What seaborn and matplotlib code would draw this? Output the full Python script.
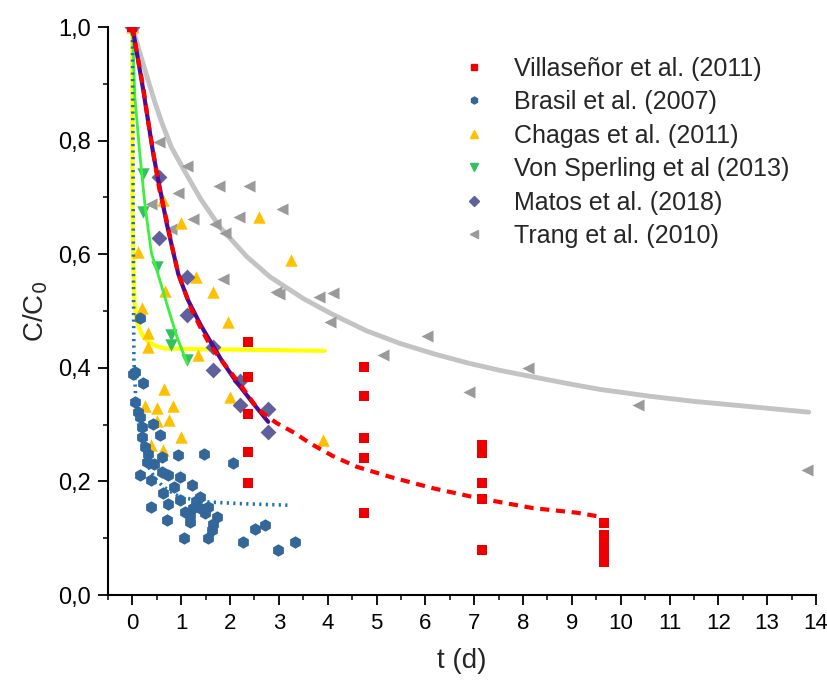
import matplotlib
matplotlib.use('Agg')
import matplotlib.pyplot as plt
from matplotlib.lines import Line2D
from matplotlib.ticker import MultipleLocator, FuncFormatter
import pandas as pd
import seaborn as sns

# Villaseñor et al. (2011) - measured points and fit
vil_t = [0, 2.37, 2.37, 2.37, 2.37, 2.37, 4.75, 4.75, 4.75, 4.75, 4.75,
         7.15, 7.15, 7.15, 7.15, 7.15, 9.65, 9.65, 9.65, 9.65, 9.65]
vil_c = [1.0, 0.445, 0.384, 0.319, 0.252, 0.197, 0.402, 0.350, 0.276, 0.241, 0.145,
         0.265, 0.250, 0.197, 0.170, 0.079, 0.127, 0.105, 0.090, 0.075, 0.058]
vil_fit_t = [0, 0.1, 0.22, 0.32, 0.43, 0.55, 0.7, 0.82, 0.94, 1.07, 1.2, 1.4, 1.59, 1.9, 2.24,
             2.58, 2.95, 3.33, 3.64, 4.1, 4.59, 5.28, 6.16, 7.12, 8.21, 9.1, 9.51, 9.6, 9.65]
vil_fit_c = [1.0, 0.95, 0.895, 0.835, 0.778, 0.715, 0.66, 0.61, 0.566, 0.535, 0.505, 0.47, 0.44, 0.405, 0.367,
             0.326, 0.303, 0.285, 0.267, 0.245, 0.226, 0.208, 0.188, 0.170, 0.153, 0.145, 0.139, 0.136, 0.128]

# Brasil et al. (2007)
bra_t = [0.15, 0.02, 0.05, 0.22, 0.05, 0.12, 0.15, 0.19, 0.43, 0.56, 0.19, 0.26, 0.32,
         0.60, 0.94, 1.47, 2.05, 0.15, 0.39, 0.60, 0.73, 0.97, 1.21, 0.63, 0.97, 1.38,
         0.39, 0.73, 1.08, 1.25, 1.38, 1.55, 1.73, 1.18, 1.49, 0.70, 1.18, 1.66, 1.62,
         1.55, 1.06, 2.51, 2.72, 2.27, 2.99, 3.33, 0.30, 0.45, 0.85, 1.30]
bra_c = [0.487, 0.39, 0.393, 0.373, 0.340, 0.323, 0.314, 0.296, 0.302, 0.282, 0.279, 0.261, 0.249,
         0.243, 0.246, 0.249, 0.232, 0.211, 0.202, 0.217, 0.211, 0.208, 0.194, 0.179, 0.167, 0.173,
         0.155, 0.161, 0.147, 0.153, 0.153, 0.155, 0.138, 0.141, 0.144, 0.132, 0.129, 0.126, 0.114,
         0.100, 0.100, 0.117, 0.123, 0.094, 0.079, 0.094, 0.235, 0.23, 0.19, 0.165]
bra_fit_t = [0, 0.01, 0.02, 0.03, 0.07, 0.12, 0.19, 0.27, 0.36, 0.48, 0.63, 0.8, 0.97, 1.25, 1.52, 2.2, 3.26]
bra_fit_c = [1.0, 0.80, 0.585, 0.414, 0.343, 0.305, 0.273, 0.243, 0.22, 0.204, 0.191, 0.181, 0.173, 0.168,
             0.164, 0.161, 0.158]

# Chagas et al. (2011)
cha_t = [0, 0.63, 0.99, 2.6, 3.24, 0.12, 1.30, 0.67, 1.66, 0.19, 1.95, 0.32, 0.32, 1.34,
         0.65, 2.0, 0.26, 0.50, 0.84, 0.50, 0.75, 0.99, 0.38, 0.63, 3.91]
cha_c = [1.0, 0.695, 0.655, 0.665, 0.59, 0.604, 0.560, 0.536, 0.533, 0.506, 0.481, 0.461, 0.437, 0.423,
         0.362, 0.349, 0.332, 0.33, 0.332, 0.307, 0.308, 0.279, 0.265, 0.256, 0.273]
cha_fit_t = [0, 0.0, 0.02, 0.04, 0.08, 0.15, 0.22, 0.32, 0.5, 0.67, 1.38, 3.94]
cha_fit_c = [1.0, 0.70, 0.58, 0.52, 0.485, 0.467, 0.455, 0.446, 0.438, 0.434, 0.433, 0.43]

# Von Sperling et al (2013)
von_t = [0, 0.22, 0.22, 0.51, 0.80, 0.80, 1.11]
von_c = [1.0, 0.741, 0.675, 0.578, 0.458, 0.440, 0.414]
von_fit_t = [0, 0.05, 0.15, 0.26, 0.39, 0.5, 0.7, 0.91, 1.12]
von_fit_c = [1.0, 0.877, 0.778, 0.684, 0.602, 0.572, 0.514, 0.455, 0.408]

# Matos et al. (2018)
mat_t = [0, 0.55, 0.55, 1.11, 1.11, 1.66, 1.66, 2.2, 2.2, 2.77, 2.77]
mat_c = [1.0, 0.736, 0.628, 0.560, 0.493, 0.437, 0.397, 0.376, 0.334, 0.327, 0.287]
mat_fit_t = [0, 0.1, 0.22, 0.43, 0.7, 0.94, 1.14, 1.4, 1.62, 1.85, 2.1, 2.45, 2.78]
mat_fit_c = [1.0, 0.95, 0.89, 0.775, 0.655, 0.565, 0.519, 0.475, 0.443, 0.41, 0.379, 0.34, 0.305]

# Trang et al. (2010)
tra_t = [0, 0.55, 1.11, 1.78, 2.39, 0.93, 3.06, 0.39, 1.25, 2.19, 0.80, 1.69, 1.90, 1.86,
         2.95, 3.0, 3.83, 4.10, 4.05, 5.14, 6.03, 8.11, 6.9, 10.35, 13.82]
tra_c = [1.0, 0.798, 0.756, 0.720, 0.720, 0.708, 0.680, 0.688, 0.662, 0.665, 0.644, 0.654, 0.637, 0.556,
         0.534, 0.53, 0.524, 0.531, 0.481, 0.423, 0.456, 0.400, 0.358, 0.335, 0.220]
tra_fit_t = [0, 0.05, 0.15, 0.29, 0.45, 0.6, 0.8, 1.11, 1.4, 1.79, 2.34, 2.82, 3.5, 4.1, 4.8, 5.48,
             6.2, 6.85, 7.5, 8.21, 9.0, 9.58, 10.6, 11.5, 12.5, 13.85]
tra_fit_c = [1.0, 0.985, 0.955, 0.915, 0.87, 0.832, 0.788, 0.74, 0.697, 0.648, 0.596, 0.56, 0.522, 0.494,
             0.465, 0.443, 0.424, 0.409, 0.396, 0.384, 0.371, 0.362, 0.35, 0.341, 0.333, 0.322]

labels = ['Villaseñor et al. (2011)', 'Brasil et al. (2007)', 'Chagas et al. (2011)',
          'Von Sperling et al (2013)', 'Matos et al. (2018)', 'Trang et al. (2010)']

sns.set_style('ticks')
plt.rcParams['font.family'] = ['Liberation Sans', 'DejaVu Sans']

fig = plt.figure(figsize=(8.27, 6.84), dpi=100)
ax = fig.add_axes([0.1306, 0.130, 0.8561, 0.8305])

# fitted curves
def fit_line(t, c, **kw):
    df = pd.DataFrame({'t': t, 'c': c})
    sns.lineplot(data=df, x='t', y='c', sort=False, estimator=None, ax=ax, **kw)

fit_line(tra_fit_t, tra_fit_c, color='#c3c3c3', linewidth=3.5, zorder=2)
fit_line(cha_fit_t, cha_fit_c, color='#ffff00', linewidth=3, zorder=2)
fit_line(von_fit_t, von_fit_c, color='#3cf03c', linewidth=2, zorder=4)
fit_line(bra_fit_t, bra_fit_c, color='#1f72b4', linewidth=2.6, linestyle=(0, (0.6, 1.2)), zorder=4)

# scatter points
def points(t, c, **kw):
    df = pd.DataFrame({'t': t, 'c': c})
    sns.scatterplot(data=df, x='t', y='c', ax=ax, linewidth=0, legend=False, **kw)

points(tra_t, tra_c, marker='<', color='#9a9a9a', s=75, zorder=3)
points(cha_t, cha_c, marker='^', color='#ffc000', s=80, zorder=3)
points(bra_t, bra_c, marker='h', color='#336699', s=80, zorder=3)
points(von_t, von_c, marker='v', color='#33c060', s=80, zorder=3)
points(mat_t, mat_c, marker='D', color='#60609c', s=65, zorder=3)
points(vil_t, vil_c, marker='s', color='#ee0000', s=60, zorder=3)

fit_line(vil_fit_t, vil_fit_c, color='#ff0000', linewidth=3, linestyle=(0, (2.2, 1.6)), zorder=5)
fit_line(mat_fit_t, mat_fit_c, color='#4b0c96', linewidth=3, zorder=4)

ax.set_xlim(-0.5, 14)
ax.set_ylim(0, 1.0)
ax.xaxis.set_major_locator(MultipleLocator(1))
ax.xaxis.set_minor_locator(MultipleLocator(0.5))
ax.yaxis.set_major_locator(MultipleLocator(0.2))
ax.yaxis.set_minor_locator(MultipleLocator(0.1))
ax.yaxis.set_major_formatter(FuncFormatter(lambda v, p: f'{v:.1f}'.replace('.', ',')))
ax.tick_params(which='major', length=7.2, width=1.3, colors='black')
ax.tick_params(which='minor', length=3.6, width=1.3)
ax.tick_params(axis='y', labelsize=17, pad=5)
ax.tick_params(axis='x', labelsize=16, pad=6)
sns.despine(ax=ax)
for sp in ['left', 'bottom']:
    ax.spines[sp].set_linewidth(1.5)
    ax.spines[sp].set_color('black')

ax.set_xlabel('t (d)', fontsize=20, labelpad=10)
ax.set_ylabel('C/C$_0$', fontsize=20, labelpad=6)

handles = [
    Line2D([], [], linestyle='none', marker='s', color='#ee0000', markersize=5),
    Line2D([], [], linestyle='none', marker='h', color='#336699', markersize=5),
    Line2D([], [], linestyle='none', marker='^', color='#ffc000', markersize=6),
    Line2D([], [], linestyle='none', marker='v', color='#33c060', markersize=6),
    Line2D([], [], linestyle='none', marker='D', color='#60609c', markersize=5),
    Line2D([], [], linestyle='none', marker='<', color='#9a9a9a', markersize=6),
]
ax.legend(handles, labels, loc='upper left', bbox_to_anchor=(0.531, 0.95), bbox_transform=fig.transFigure,
          frameon=False, fontsize=18, handlelength=1.0, handletextpad=1.1, labelspacing=0.38)

fig.savefig('out.png', dpi=100)
